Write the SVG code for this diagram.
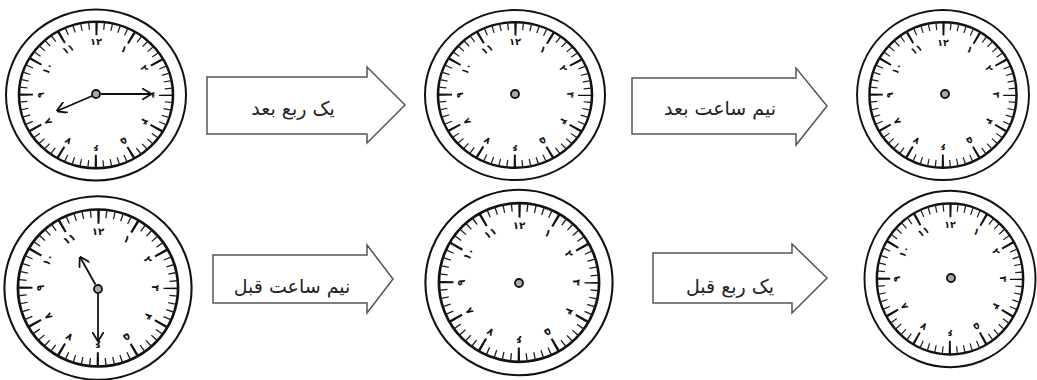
<svg xmlns="http://www.w3.org/2000/svg" xmlns:xlink="http://www.w3.org/1999/xlink" width="1037" height="380" viewBox="0 0 1037 380">
<style>
.rim{fill:#fff;stroke:#111;stroke-width:2}
.rim2{fill:#fff;stroke:#111;stroke-width:2.6}
.mt{fill:none;stroke:#222;stroke-width:8;stroke-dasharray:1.3 6.34454;stroke-dashoffset:0.65}
.ht{fill:none;stroke:#111;stroke-width:14;stroke-dasharray:2.2 34.4519;stroke-dashoffset:1.1}
.num{font-family:"DejaVu Sans",sans-serif;font-size:10px;font-weight:bold;fill:#111;text-anchor:middle;dominant-baseline:central}
.hub{fill:#aaa;stroke:#111;stroke-width:1.8}
.hand{stroke:#111;stroke-width:1.8;fill:none;marker-end:url(#vhead)}
.blk{fill:#fff;stroke:#555;stroke-width:1.5;stroke-linejoin:miter}
.lbl{font-family:"DejaVu Sans",sans-serif;font-size:19px;fill:#222;text-anchor:middle;dominant-baseline:central}
</style>
<defs>
<marker id="vhead" viewBox="0 0 10 12" refX="9.5" refY="6" markerWidth="10" markerHeight="12" markerUnits="userSpaceOnUse" orient="auto">
<path d="M0,0 L10,6 L0,12" fill="none" stroke="#111" stroke-width="1.8"/>
</marker>
<g id="face">
<circle r="90" class="rim"/>
<circle r="77" class="rim2"/>
<circle r="73" class="mt"/>
<circle r="70" class="ht"/>
<text class="num" transform="rotate(0) translate(0,-56)">۱۲</text>
<text class="num" transform="rotate(30) translate(0,-56)">۱</text>
<text class="num" transform="rotate(60) translate(0,-56)">۲</text>
<text class="num" transform="rotate(90) translate(0,-56)">۳</text>
<text class="num" transform="rotate(120) translate(0,-56)">۴</text>
<text class="num" transform="rotate(150) translate(0,-56)">۵</text>
<text class="num" transform="rotate(180) translate(0,-56)">۶</text>
<text class="num" transform="rotate(210) translate(0,-56)">۷</text>
<text class="num" transform="rotate(240) translate(0,-56)">۸</text>
<text class="num" transform="rotate(270) translate(0,-56)">۹</text>
<text class="num" transform="rotate(300) translate(0,-56)">۱۰</text>
<text class="num" transform="rotate(330) translate(0,-56)">۱۱</text>
</g>
</defs>
<rect width="1037" height="380" fill="#fff"/>

<g id="clock-1">
<use xlink:href="#face" transform="translate(96,95) scale(1,0.95)"/>
<line class="hand" x1="101" y1="94" x2="151" y2="94"/>
<line class="hand" x1="92" y1="96" x2="57" y2="111"/>
<circle class="hub" cx="96" cy="94" r="4"/>
</g>

<g id="clock-2">
<use xlink:href="#face" transform="translate(515,95) scale(1,0.945)"/>
<circle class="hub" cx="515" cy="94" r="4"/>
</g>

<g id="clock-3">
<use xlink:href="#face" transform="translate(943,95) scale(0.955,0.945)"/>
<circle class="hub" cx="945" cy="94" r="4"/>
</g>

<g id="clock-4">
<use xlink:href="#face" transform="translate(98,288) scale(1.04,1.02)"/>
<line class="hand" x1="98" y1="294" x2="98" y2="341"/>
<line class="hand" x1="95.5" y1="284.5" x2="80" y2="257"/>
<circle class="hub" cx="98" cy="289" r="4"/>
</g>

<g id="clock-5">
<use xlink:href="#face" transform="translate(519,282.5) scale(1.04,1.03)"/>
<circle class="hub" cx="519" cy="283" r="4"/>
</g>

<g id="clock-6">
<use xlink:href="#face" transform="translate(950,279) scale(0.95,0.98)"/>
<circle class="hub" cx="951" cy="278" r="4"/>
</g>

<g id="connectors">
<g id="arrow-1">
<polygon class="blk" points="207,77 367,77 367,67 405,105 367,143 367,134 207,134"/>
<text class="lbl" x="293" y="108">یک ربع بعد</text>
</g>
<g id="arrow-2">
<polygon class="blk" points="632,78 796,78 796,68 827,106 796,145 796,134 632,134"/>
<text class="lbl" x="720" y="108">نیم ساعت بعد</text>
</g>
<g id="arrow-3">
<polygon class="blk" points="213,255 367,255 367,245 393,279 367,313 367,303 213,303"/>
<text class="lbl" x="292" y="286">نیم ساعت قبل</text>
</g>
<g id="arrow-4">
<polygon class="blk" points="653,253 792,253 792,244 827,278 792,313 792,303 653,303"/>
<text class="lbl" x="730" y="286">یک ربع قبل</text>
</g>
</g>
</svg>
